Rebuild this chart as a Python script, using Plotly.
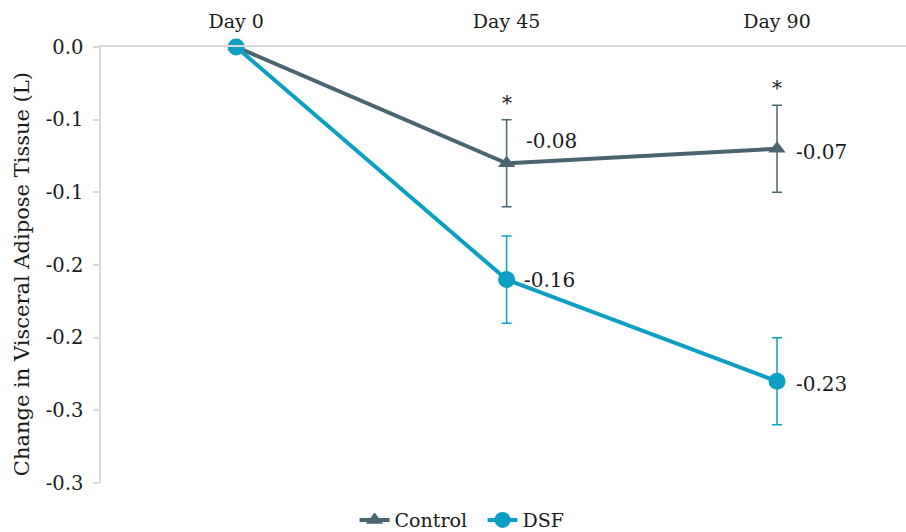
import plotly.graph_objects as go

# Study visits and mean change in visceral adipose tissue (litres)
days = ["Day 0", "Day 45", "Day 90"]
control_change = [0.0, -0.08, -0.07]
control_err = [0.0, 0.03, 0.03]
dsf_change = [0.0, -0.16, -0.23]
dsf_err = [0.0, 0.03, 0.03]
significant = [False, True, True]

# Value axis ticks every 0.05 L, labelled to one decimal place
y_ticks = [0.0, -0.05, -0.10, -0.15, -0.20, -0.25, -0.30]
y_tick_text = ["0.0", "-0.1", "-0.1", "-0.2", "-0.2", "-0.3", "-0.3"]
y_title = "Change in Visceral Adipose Tissue (L)"

CONTROL_COLOR = "#4b6570"
DSF_COLOR = "#0d9fc3"
FONT = "DejaVu Serif"
TEXT_COLOR = "#1a1a1a"
AXIS_COLOR = "#d9d9d9"

fig = go.Figure()

fig.add_trace(go.Scatter(
    x=days, y=control_change, name="Control", mode="lines+markers",
    line=dict(color=CONTROL_COLOR, width=4),
    marker=dict(symbol="triangle-up", size=15, color=CONTROL_COLOR),
    error_y=dict(type="data", array=control_err, visible=True,
                 color=CONTROL_COLOR, thickness=1.5, width=5),
    cliponaxis=False,
))
fig.add_trace(go.Scatter(
    x=days, y=dsf_change, name="DSF", mode="lines+markers",
    line=dict(color=DSF_COLOR, width=4),
    marker=dict(symbol="circle", size=17, color=DSF_COLOR),
    error_y=dict(type="data", array=dsf_err, visible=True,
                 color=DSF_COLOR, thickness=1.5, width=5),
    cliponaxis=False,
))

# Value labels beside each post-baseline point
label_offsets = {
    ("Control", 1): (0, 22),
    ("Control", 2): (0, -3),
    ("DSF", 1): (-2, 0),
    ("DSF", 2): (0, -3),
}
for name, vals in (("Control", control_change), ("DSF", dsf_change)):
    for i in range(1, len(days)):
        dx, dy = label_offsets[(name, i)]
        fig.add_annotation(
            x=days[i], y=vals[i], text=f"{vals[i]:.2f}",
            showarrow=False, xanchor="left", yanchor="middle",
            xshift=17 + dx, yshift=dy,
            font=dict(family=FONT, size=20, color=TEXT_COLOR),
        )

# Significance markers above the control error bars
for i, sig in enumerate(significant):
    if sig:
        fig.add_annotation(
            x=days[i], y=control_change[i] + control_err[i], text="*",
            showarrow=False, yanchor="bottom", yshift=3,
            font=dict(family=FONT, size=20, color=TEXT_COLOR),
        )

# Vertical value-axis title, set slightly below the plot's vertical centre
fig.add_annotation(
    xref="paper", yref="paper", x=0, y=0.479, xshift=-79,
    text=y_title, textangle=-90, showarrow=False,
    xanchor="center", yanchor="middle",
    font=dict(family=FONT, size=21, color=TEXT_COLOR),
)

fig.update_layout(
    width=906, height=532,
    margin=dict(l=101, r=0, t=47, b=49, autoexpand=False),
    paper_bgcolor="white", plot_bgcolor="white",
    font=dict(family=FONT, size=19, color=TEXT_COLOR),
    showlegend=True,
    legend=dict(orientation="h", x=0.474, xanchor="center",
                y=-0.085, yanchor="middle",
                entrywidth=83, entrywidthmode="pixels",
                font=dict(family=FONT, size=19, color=TEXT_COLOR),
                itemsizing="trace"),
    xaxis=dict(
        type="category", categoryorder="array", categoryarray=days,
        range=[-0.5, 2.477], side="top",
        showline=True, linecolor=AXIS_COLOR, linewidth=1.5,
        showgrid=False, zeroline=False, ticks="",
        ticklabelstandoff=10,
        tickfont=dict(family=FONT, size=19, color=TEXT_COLOR),
    ),
    yaxis=dict(
        range=[-0.3, 0.0], tickvals=y_ticks, ticktext=y_tick_text,
        showline=True, linecolor=AXIS_COLOR, linewidth=1.5,
        ticks="outside", ticklen=6, tickcolor=AXIS_COLOR, tickwidth=1.5,
        ticklabelstandoff=6,
        showgrid=False, zeroline=False,
        tickfont=dict(family=FONT, size=19.5, color=TEXT_COLOR),
    ),
)

fig.write_html("out.html")
